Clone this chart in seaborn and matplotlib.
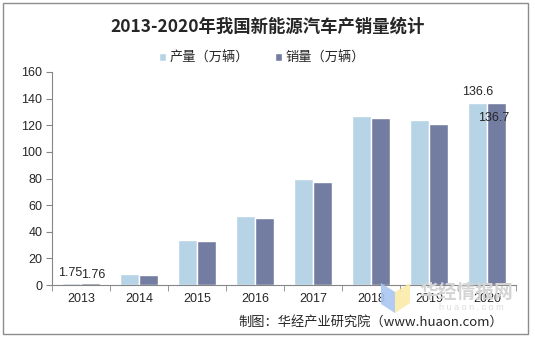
import matplotlib
matplotlib.use("Agg")
import matplotlib.pyplot as plt
import seaborn as sns
import pandas as pd
from matplotlib.patches import Rectangle, Polygon

years = ["2013", "2014", "2015", "2016", "2017", "2018", "2019", "2020"]
production = [1.75, 7.9, 34.0, 51.7, 79.4, 127.0, 124.2, 136.6]
sales = [1.76, 7.5, 33.1, 50.7, 77.7, 125.6, 120.6, 136.7]
series_names = ["产量（万辆）", "销量（万辆）"]
colors = ["#B7D3E6", "#737DA1"]
title = "2013-2020年我国新能源汽车产销量统计"
source = "制图：华经产业研究院（www.huaon.com）"
watermark = "华经情报网"
watermark_sub = "h u a o n . c o m"

sns.set_style("white")
plt.rcParams['font.family'] = ['Liberation Sans', 'Noto Sans CJK SC', 'DejaVu Sans']

df = pd.DataFrame({
    "year": years * 2,
    "value": production + sales,
    "series": [series_names[0]] * len(years) + [series_names[1]] * len(years),
})

W, H = 535, 337
fig = plt.figure(figsize=(W / 100, H / 100), dpi=100)
ax = fig.add_axes([52/W, 1 - 285/H, (516 - 52)/W, (285 - 72)/H])

sns.barplot(data=df, x="year", y="value", hue="series", palette=colors,
            width=0.655, ax=ax, saturation=1, legend=True)

ax.set_ylim(0, 160)
ax.set_yticks(range(0, 161, 20))
ax.set_xlim(-0.5, len(years) - 0.5)
ax.set_xlabel("")
ax.set_ylabel("")
for s in ["top", "right"]:
    ax.spines[s].set_visible(False)
for s in ["left", "bottom"]:
    ax.spines[s].set_color("#868686")
    ax.spines[s].set_linewidth(0.8)
ax.tick_params(axis="y", which="major", length=4, color="#868686", labelsize=9, pad=3, direction="out", left=True)
ax.tick_params(axis="x", which="major", length=0, labelsize=9, pad=6)
ax.set_xticks([i - 0.5 for i in range(len(years) + 1)], minor=True)
ax.tick_params(axis="x", which="minor", length=4, color="#868686", direction="out", bottom=True)
ax.grid(False)

# legend
handles, labels = ax.get_legend_handles_labels()
ax.get_legend().remove()
fig.legend(handles, labels, loc="center", bbox_to_anchor=(262/W, 1 - 58/H), ncol=2,
           frameon=False, fontsize=9.5, handlelength=0.5, handleheight=0.5,
           handletextpad=0.25, columnspacing=2.0)

# data labels
bars_p = ax.containers[0]
bars_s = ax.containers[1]
def label(bar, val, dx, dy, va="bottom"):
    x = bar.get_x() + bar.get_width() / 2
    ax.annotate(f"{val}", (x, val), xytext=(dx, dy), textcoords="offset points",
                ha="center", va=va, fontsize=9)
label(bars_p[0], production[0], -1, 3)
label(bars_s[0], sales[0], 2, 1)
label(bars_p[-1], production[-1], 0, 4)
label(bars_s[-1], sales[-1], -2, -10.5, va="center")

fig.text(0.5, 1 - 27/H, title, ha="center", va="center", fontsize=12.5,
         fontweight="bold", family=['Noto Sans CJK SC', 'DejaVu Sans'])

# watermark logo
fig.patches.append(Polygon([(381/W, 1 - 283/H), (395/W, 1 - 292/H), (395/W, 1 - 313/H), (381/W, 1 - 304/H)],
                           closed=True, transform=fig.transFigure, facecolor="#A9C6F2",
                           edgecolor="none", alpha=0.9, zorder=5))
fig.patches.append(Polygon([(395/W, 1 - 292/H), (410/W, 1 - 283/H), (410/W, 1 - 303/H), (395/W, 1 - 313/H)],
                           closed=True, transform=fig.transFigure, facecolor="#FBEAA6",
                           edgecolor="none", alpha=0.9, zorder=5))
fig.text(466/W, 1 - 292/H, watermark, ha="center", va="center", fontsize=13.5,
         color="#D4D4D4", fontweight="bold", family=['Noto Sans CJK SC'], zorder=6)
fig.text(471/W, 1 - 307/H, watermark_sub, ha="center", va="center", fontsize=6.5,
         color="#DCDCDC", zorder=6)

fig.text(503/W, 1 - 322/H, source, ha="right", va="center", fontsize=9.5,
         family=['Noto Sans CJK SC', 'DejaVu Sans'], zorder=7)

fig.patches.append(Rectangle((3/W, 3/H), 525/W, 331/H, transform=fig.transFigure,
                             fill=False, edgecolor="#8C8C8C", linewidth=1))

fig.savefig("out.png", dpi=100)
